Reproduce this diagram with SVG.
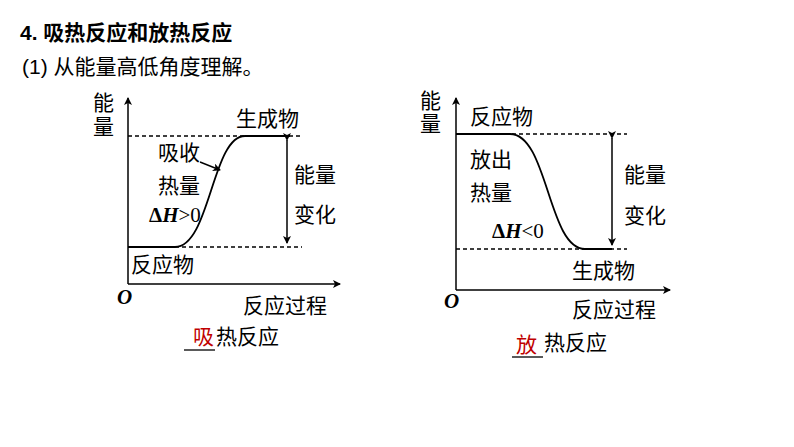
<svg xmlns="http://www.w3.org/2000/svg" width="794" height="447" viewBox="0 0 794 447">
<defs>
<marker id="ah" markerWidth="8" markerHeight="8" refX="7" refY="4" orient="auto" markerUnits="userSpaceOnUse"><path d="M0,0 L8,4 L0,8 L2,4 Z" fill="#000"/></marker>
<style>
text{font-family:"Liberation Sans","Noto Sans CJK SC",sans-serif;fill:#000;font-size:21px}
.ax{stroke:#000;stroke-width:1.5;fill:none}
.d{stroke:#000;stroke-width:1.3;stroke-dasharray:4,3;fill:none}
.c{stroke:#000;stroke-width:1.8;fill:none}
.r{fill:#c00000}
.i{font-family:"Liberation Serif",serif;font-style:italic;font-weight:bold}
.n{font-family:"Liberation Serif",serif;font-weight:bold}
</style>
</defs>
<rect width="794" height="447" fill="#fff"/>
<text x="20" y="40" font-weight="bold" font-size="19">4. 吸热反应和放热反应</text>
<text x="22" y="74" font-size="19">(1) 从能量高低角度理解。</text>
<g id="chart1">
<path class="ax" d="M128,284 V98" marker-end="url(#ah)"/>
<path class="ax" d="M128,284 H340" marker-end="url(#ah)"/>
<path class="d" d="M128,136 H302 M175,247 H302"/>
<path class="c" d="M128,247 H175 C210,247 212,136 245,136 H290"/>
<path class="ax" d="M287,140 V243" marker-start="url(#ah)" marker-end="url(#ah)"/>
<path class="ax" stroke-width="1" d="M200,162 L220,170" marker-end="url(#ah)"/>
<text x="93" y="110">能</text><text x="93" y="134">量</text>
<text x="236" y="126">生成物</text>
<text x="158" y="160">吸收</text>
<text x="158" y="193">热量</text>
<text x="149" y="222" class="n">Δ<tspan class="i">H</tspan><tspan font-weight="normal">&gt;0</tspan></text>
<text x="294" y="182">能量</text>
<text x="294" y="222">变化</text>
<text x="131" y="272">反应物</text>
<text x="117" y="304" class="i">O</text>
<text x="243" y="313">反应过程</text>
<text x="193" y="344" class="r">吸</text>
<text x="216" y="344">热反应</text>
<path d="M184,350 H215" stroke="#000" stroke-width="1.3"/>
</g>
<g id="chart2">
<path class="ax" d="M456,290 V98" marker-end="url(#ah)"/>
<path class="ax" d="M456,290 H670" marker-end="url(#ah)"/>
<path class="d" d="M456,134 H627 M456,249 H627"/>
<path class="c" d="M456,134 H510 C548,134 548,249 585,249 H612"/>
<path class="ax" d="M612,138 V245" marker-start="url(#ah)" marker-end="url(#ah)"/>
<text x="420" y="108">能</text><text x="420" y="131">量</text>
<text x="470" y="124">反应物</text>
<text x="470" y="167">放出</text>
<text x="470" y="200">热量</text>
<text x="492" y="238" class="n">Δ<tspan class="i">H</tspan><tspan font-weight="normal">&lt;0</tspan></text>
<text x="624" y="182">能量</text>
<text x="624" y="223">变化</text>
<text x="572" y="278">生成物</text>
<text x="444" y="308" class="i">O</text>
<text x="572" y="317">反应过程</text>
<text x="516" y="352" class="r">放</text>
<text x="544" y="350">热反应</text>
<path d="M512,357 H543" stroke="#000" stroke-width="1.3"/>
</g>
</svg>
